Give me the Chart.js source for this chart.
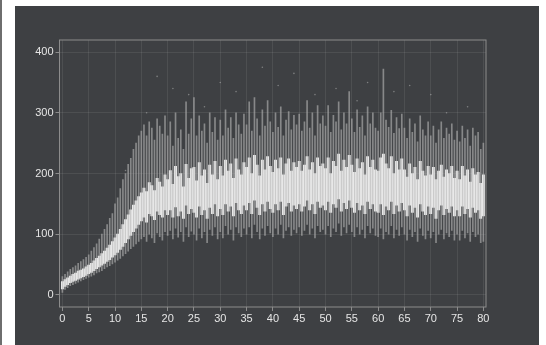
<!DOCTYPE html>
<html>
<head>
<meta charset="utf-8">
<script src="https://cdn.jsdelivr.net/npm/chart.js@4.4.0/dist/chart.umd.min.js"></script>
<style>
  html, body { margin: 0; padding: 0; background: #ffffff; width: 546px; height: 345px; overflow: hidden; }
  .edge { position: absolute; left: 0; top: 0; width: 2px; height: 345px; background: #6e6e6e; }
  .panel { position: absolute; left: 15px; top: 6px; width: 524px; height: 339px; background: #3e4043; }
  #boxChart { position: absolute; left: 0; top: 0; }
</style>
</head>
<body>
<div class="edge"></div>
<div class="panel"></div>
<canvas id="boxChart" width="546" height="345"></canvas>
<script>
// Box positions (one box every half unit)
const positions = [
  0, 0.5, 1, 1.5, 2, 2.5, 3, 3.5, 4, 4.5, 5, 5.5, 6, 6.5, 7, 7.5, 8, 8.5, 9, 9.5,
  10, 10.5, 11, 11.5, 12, 12.5, 13, 13.5, 14, 14.5, 15, 15.5, 16, 16.5, 17, 17.5, 18, 18.5, 19, 19.5,
  20, 20.5, 21, 21.5, 22, 22.5, 23, 23.5, 24, 24.5, 25, 25.5, 26, 26.5, 27, 27.5, 28, 28.5, 29, 29.5,
  30, 30.5, 31, 31.5, 32, 32.5, 33, 33.5, 34, 34.5, 35, 35.5, 36, 36.5, 37, 37.5, 38, 38.5, 39, 39.5,
  40, 40.5, 41, 41.5, 42, 42.5, 43, 43.5, 44, 44.5, 45, 45.5, 46, 46.5, 47, 47.5, 48, 48.5, 49, 49.5,
  50, 50.5, 51, 51.5, 52, 52.5, 53, 53.5, 54, 54.5, 55, 55.5, 56, 56.5, 57, 57.5, 58, 58.5, 59, 59.5,
  60, 60.5, 61, 61.5, 62, 62.5, 63, 63.5, 64, 64.5, 65, 65.5, 66, 66.5, 67, 67.5, 68, 68.5, 69, 69.5,
  70, 70.5, 71, 71.5, 72, 72.5, 73, 73.5, 74, 74.5, 75, 75.5, 76, 76.5, 77, 77.5, 78, 78.5, 79, 79.5,
  80
];

// Lower whisker ends
const whiskerLow = [
  4, 9, 12, 15, 17, 19, 21, 23, 25, 27,
  29, 31, 33, 36, 38, 40, 43, 46, 48, 51,
  54, 57, 60, 64, 68, 72, 76, 80, 84, 88,
  92, 96, 88, 100, 94, 86, 102, 96, 90, 104,
  98, 106, 92, 110, 95, 104, 88, 112, 96, 105,
  100, 90, 110, 94, 104, 86, 108, 98, 112, 92,
  104, 94, 114, 100, 108, 90, 112, 102, 96, 110,
  100, 112, 94, 116, 104, 92, 110, 98, 114, 102,
  96, 110, 100, 116, 94, 106, 112, 98, 108, 102,
  112, 98, 106, 116, 100, 110, 94, 114, 104, 108,
  100, 114, 96, 110, 104, 118, 98, 112, 102, 116,
  104, 96, 112, 100, 108, 94, 114, 102, 110, 98,
  96, 110, 92, 104, 100, 114, 94, 108, 98, 112,
  100, 90, 108, 96, 104, 88, 110, 98, 92, 106,
  94, 104, 86, 100, 108, 92, 102, 96, 106, 90,
  100, 90, 106, 94, 102, 88, 104, 96, 100, 86,
  88
];

// First quartile
const q1 = [
  10, 14, 17, 20, 22, 24, 26, 28, 30, 32,
  35, 37, 40, 43, 46, 49, 52, 55, 58, 62,
  66, 70, 75, 80, 86, 92, 98, 104, 110, 116,
  122, 128, 120, 134, 130, 124, 138, 132, 128, 140,
  132, 140, 128, 145, 130, 138, 126, 148, 134, 142,
  136, 128, 146, 132, 140, 126, 144, 134, 150, 130,
  142, 132, 150, 138, 146, 130, 152, 140, 134, 148,
  140, 152, 134, 156, 144, 132, 150, 138, 154, 142,
  136, 150, 140, 154, 132, 146, 152, 138, 148, 142,
  150, 138, 146, 156, 140, 150, 134, 154, 144, 148,
  140, 154, 136, 150, 144, 158, 138, 152, 142, 156,
  144, 136, 152, 140, 148, 134, 154, 142, 150, 138,
  136, 150, 132, 146, 140, 154, 134, 148, 138, 152,
  140, 130, 148, 136, 144, 128, 150, 138, 132, 146,
  134, 144, 126, 140, 148, 132, 142, 136, 146, 130,
  140, 130, 146, 134, 142, 128, 144, 136, 140, 126,
  130
];

// Third quartile
const q3 = [
  22, 25, 28, 31, 34, 36, 39, 41, 43, 46,
  49, 52, 56, 60, 64, 68, 72, 77, 82, 88,
  94, 100, 108, 116, 124, 132, 140, 148, 155, 162,
  168, 176, 170, 185, 180, 172, 192, 186, 178, 198,
  190, 205, 182, 212, 195, 200, 178, 215, 192, 208,
  210, 188, 218, 196, 206, 184, 214, 198, 220, 190,
  212, 196, 222, 204, 216, 192, 224, 206, 198, 218,
  210, 226, 200, 230, 214, 196, 222, 206, 228, 212,
  202, 222, 208, 226, 198, 216, 224, 204, 218, 210,
  220, 204, 214, 228, 206, 218, 200, 226, 212, 216,
  208, 226, 200, 220, 212, 232, 204, 222, 210, 230,
  214, 202, 224, 208, 218, 198, 228, 210, 222, 206,
  204, 226, 232, 216, 208, 228, 200, 220, 206, 224,
  206, 194, 216, 200, 210, 190, 220, 204, 196, 212,
  198, 210, 190, 204, 214, 194, 206, 200, 212, 192,
  204, 190, 212, 196, 206, 186, 208, 198, 202, 184,
  198
];

// Upper whisker ends
const whiskerHigh = [
  30, 34, 38, 42, 45, 48, 52, 55, 58, 62,
  66, 72, 78, 84, 92, 100, 108, 116, 126, 134,
  150, 160, 175, 190, 200, 215, 225, 240, 250, 262,
  270, 280, 262, 285, 275, 255, 290, 278, 265, 295,
  262, 285, 245, 300, 258, 272, 240, 318, 265, 290,
  325, 262, 295, 270, 282, 250, 300, 268, 292, 255,
  288, 262, 305, 275, 292, 258, 300, 280, 265, 298,
  280, 318, 270, 325, 290, 262, 305, 278, 320, 285,
  268, 300, 276, 310, 262, 288, 302, 272, 296, 280,
  298, 270, 285, 320, 275, 300, 262, 312, 282, 295,
  278, 312, 268, 296, 285, 318, 272, 300, 282, 335,
  290, 268, 305, 276, 295, 262, 310, 282, 300, 275,
  270, 300, 372, 288, 276, 304, 266, 292, 274, 298,
  275, 258, 290, 268, 282, 252, 295, 272, 262, 285,
  262, 278, 250, 272, 285, 258, 275, 265, 282, 255,
  270, 252, 278, 258, 272, 245, 275, 262, 268, 240,
  250
];

// Scattered outliers
const outlierX = [12, 16, 18, 21, 24, 27, 30, 33, 38, 41, 44, 48, 52, 56, 58, 63, 66, 70, 73, 77];
const outlierY = [205, 300, 360, 340, 330, 310, 350, 335, 375, 345, 365, 330, 340, 320, 350, 335, 345, 330, 300, 310];

const xTicks = [0, 5, 10, 15, 20, 25, 30, 35, 40, 45, 50, 55, 60, 65, 70, 75, 80];
const yTicks = [0, 100, 200, 300, 400];

const TEXT = '#e6e6e6';
const FRAME = '#8c8c8c';
const GRID = 'rgba(255, 255, 255, 0.08)';

// Draws the frame round the plot area
const framePlugin = {
  id: 'frame',
  afterDraw(chart) {
    const { ctx, chartArea: a } = chart;
    ctx.save();
    ctx.strokeStyle = FRAME;
    ctx.lineWidth = 1;
    ctx.strokeRect(a.left, a.top, a.right - a.left, a.bottom - a.top);
    ctx.restore();
  }
};

function buildChart() {
  const ctx = document.getElementById('boxChart').getContext('2d');

  const whiskers = positions.map((x, i) => ({ x: x, y: [whiskerLow[i], whiskerHigh[i]] }));
  const boxes = positions.map((x, i) => ({ x: x, y: [q1[i], q3[i]] }));
  const outliers = outlierX.map((x, i) => ({ x: x, y: outlierY[i] }));

  new Chart(ctx, {
    type: 'bar',
    data: {
      datasets: [
        {
          type: 'scatter',
          data: outliers,
          pointRadius: 0.8,
          pointBackgroundColor: 'rgba(170, 170, 170, 0.6)',
          pointBorderWidth: 0
        },
        {
          data: whiskers,
          backgroundColor: 'rgba(175, 175, 175, 0.65)',
          barThickness: 1,
          grouped: false
        },
        {
          data: boxes,
          backgroundColor: '#ffffff',
          barThickness: 2.2,
          grouped: false
        }
      ]
    },
    options: {
      responsive: false,
      animation: false,
      devicePixelRatio: 1,
      layout: { padding: { left: 0, top: 40, right: 60, bottom: 0 } },
      plugins: {
        legend: { display: false },
        tooltip: { enabled: false }
      },
      scales: {
        x: {
          type: 'linear',
          offset: false,
          min: -0.55,
          max: 80.5,
          afterFit: (scale) => { scale.height = 38; },
          afterBuildTicks: (scale) => { scale.ticks = xTicks.map(v => ({ value: v })); },
          ticks: {
            color: TEXT,
            padding: 1,
            maxRotation: 0,
            autoSkip: false,
            font: { family: 'Liberation Sans, Arial, sans-serif', size: 11 }
          },
          grid: { color: GRID, offset: false, tickColor: FRAME, tickLength: 4 },
          border: { display: false }
        },
        y: {
          min: -20,
          max: 420,
          afterFit: (scale) => { scale.width = 59.5; },
          afterBuildTicks: (scale) => { scale.ticks = yTicks.map(v => ({ value: v })); },
          ticks: {
            color: TEXT,
            padding: 2,
            font: { family: 'Liberation Sans, Arial, sans-serif', size: 11 }
          },
          grid: { color: GRID, tickColor: FRAME, tickLength: 4 },
          border: { display: false }
        }
      }
    },
    plugins: [framePlugin]
  });
}

document.addEventListener('DOMContentLoaded', () => {
  buildChart();
});
</script>
</body>
</html>
